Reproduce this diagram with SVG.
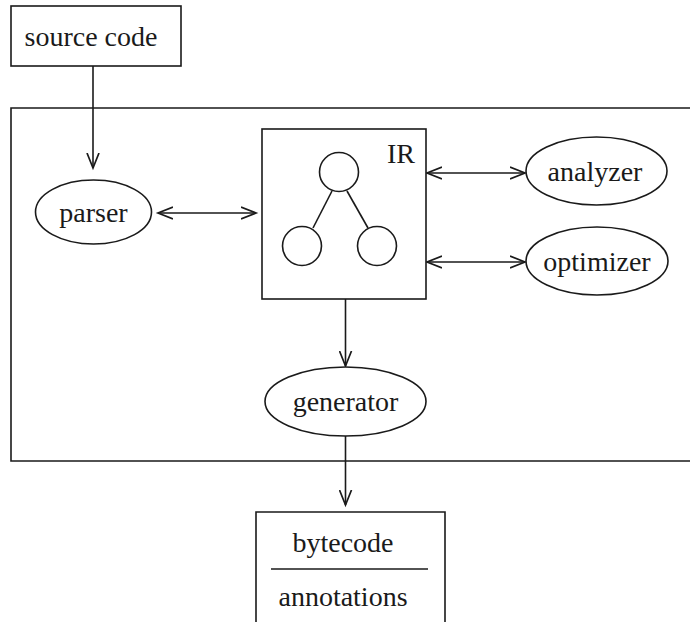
<svg xmlns="http://www.w3.org/2000/svg" width="690" height="622" viewBox="0 0 690 622">
<defs>
<style>
.s{fill:none;stroke:#1a1a1a;stroke-width:1.6}
.n{fill:#fff;stroke:#1a1a1a;stroke-width:1.6}
.t{font-family:"Liberation Serif","Times New Roman",serif;font-size:28px;fill:#1a1a1a;text-anchor:middle}
</style>
<marker id="ah" markerUnits="userSpaceOnUse" markerWidth="18" markerHeight="14" refX="15" refY="6.5" orient="auto-start-reverse" viewBox="0 0 18 13">
<path d="M0,0.5 L15,6.5 L0,12.5" fill="none" stroke="#1a1a1a" stroke-width="1.7"/>
</marker>
</defs>
<rect width="690" height="622" fill="#fff"/>
<g id="frame">
<path class="s" d="M692,108 L11,108 L11,461 L692,461"/>
</g>
<g id="connectors">
<line class="s" x1="93" y1="66" x2="93" y2="168" marker-end="url(#ah)"/>
<line class="s" x1="158" y1="213" x2="256" y2="213" marker-start="url(#ah)" marker-end="url(#ah)"/>
<line class="s" x1="427" y1="173" x2="525" y2="173" marker-start="url(#ah)" marker-end="url(#ah)"/>
<line class="s" x1="427" y1="262" x2="525" y2="262" marker-start="url(#ah)" marker-end="url(#ah)"/>
<line class="s" x1="345.5" y1="299" x2="345.5" y2="366" marker-end="url(#ah)"/>
<line class="s" x1="345.5" y1="436" x2="345.5" y2="505" marker-end="url(#ah)"/>
</g>
<g id="source">
<rect class="n" x="11" y="6" width="170" height="60"/>
<text class="t" x="91" y="46">source code</text>
</g>
<g id="parser">
<ellipse class="n" cx="93.5" cy="212" rx="58" ry="32"/>
<text class="t" x="93.5" y="222">parser</text>
</g>
<g id="ir">
<rect class="n" x="262" y="129" width="164" height="170"/>
<text class="t" x="401" y="163">IR</text>
<line class="s" x1="332" y1="191" x2="313" y2="228"/>
<line class="s" x1="347" y1="191" x2="368" y2="228"/>
<circle class="n" cx="339" cy="172" r="19.5"/>
<circle class="n" cx="302" cy="246" r="19.5"/>
<circle class="n" cx="377" cy="246" r="19.5"/>
</g>
<g id="analyzer">
<ellipse class="n" cx="596.5" cy="171" rx="70.5" ry="34"/>
<text class="t" x="595" y="181">analyzer</text>
</g>
<g id="optimizer">
<ellipse class="n" cx="597" cy="261" rx="71" ry="34"/>
<text class="t" x="597" y="271">optimizer</text>
</g>
<g id="generator">
<ellipse class="n" cx="345.5" cy="401.5" rx="80.5" ry="34.5"/>
<text class="t" x="345.5" y="411">generator</text>
</g>
<g id="bytecode">
<path class="n" d="M256,624 L256,512 L445,512 L445,624"/>
<text class="t" x="343" y="552">bytecode</text>
<line class="s" x1="271" y1="569" x2="428" y2="569"/>
<text class="t" x="343" y="606">annotations</text>
</g>
</svg>
